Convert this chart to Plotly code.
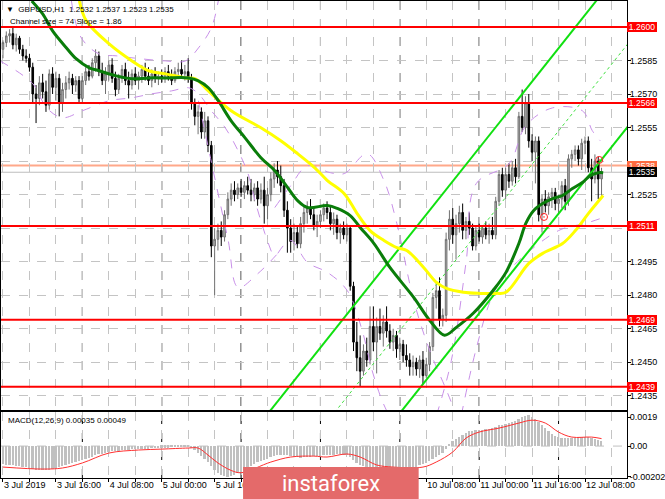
import plotly.graph_objects as go

# ---------------- data ----------------
bar_index = list(range(182))

opens = [1.2590,1.2593,1.2596,1.2597,1.2592,1.2595,1.2590,1.2587,1.2586,1.2582,
         1.2570,1.2568,1.2575,1.2571,1.2565,1.2579,1.2573,1.2577,1.2566,1.2572,
         1.2575,1.2577,1.2574,1.2576,1.2568,1.2576,1.2580,1.2578,1.2584,1.2587,
         1.2580,1.2576,1.2579,1.2583,1.2577,1.2572,1.2577,1.2581,1.2576,1.2574,
         1.2579,1.2576,1.2578,1.2581,1.2578,1.2576,1.2579,1.2577,1.2578,1.2577,
         1.2580,1.2578,1.2576,1.2580,1.2581,1.2579,1.2580,1.2577,1.2566,1.2560,
         1.2562,1.2553,1.2558,1.2547,1.2502,1.2505,1.2509,1.2506,1.2516,1.2523,
         1.2527,1.2525,1.2528,1.2526,1.2529,1.2527,1.2525,1.2528,1.2523,1.2527,
         1.2520,1.2525,1.2532,1.2536,1.2533,1.2529,1.2518,1.2510,1.2504,1.2508,
         1.2503,1.2512,1.2517,1.2519,1.2516,1.2511,1.2513,1.2516,1.2519,1.2517,
         1.2512,1.2514,1.2508,1.2510,1.2507,1.2510,1.2484,1.2459,1.2452,1.2446,
         1.2455,1.2451,1.2466,1.2459,1.2466,1.2463,1.2468,1.2464,1.2459,1.2462,
         1.2456,1.2458,1.2453,1.2451,1.2448,1.2450,1.2447,1.2451,1.2444,1.2449,
         1.2457,1.2479,1.2482,1.2469,1.2471,1.2505,1.2514,1.2507,1.2512,1.2517,
         1.2509,1.2513,1.2510,1.2502,1.2509,1.2506,1.2510,1.2507,1.2509,1.2507,
         1.2522,1.2534,1.2527,1.2534,1.2531,1.2537,1.2533,1.2560,1.2555,1.2566,
         1.2549,1.2544,1.2549,1.2516,1.2523,1.2520,1.2524,1.2526,1.2521,1.2523,
         1.2529,1.2522,1.2541,1.2543,1.2545,1.2541,1.2548,1.2549,1.2537,1.2532,
         1.2540,1.2532]

highs = [1.2594,1.2598,1.2599,1.2600,1.2597,1.2596,1.2592,1.2590,1.2588,1.2584,
         1.2574,1.2578,1.2579,1.2576,1.2581,1.2582,1.2580,1.2579,1.2575,1.2578,
         1.2580,1.2579,1.2578,1.2578,1.2578,1.2582,1.2583,1.2586,1.2590,1.2589,
         1.2584,1.2582,1.2585,1.2586,1.2580,1.2579,1.2583,1.2584,1.2580,1.2581,
         1.2582,1.2580,1.2583,1.2584,1.2582,1.2581,1.2582,1.2580,1.2581,1.2582,
         1.2583,1.2581,1.2582,1.2584,1.2585,1.2583,1.2586,1.2579,1.2568,1.2565,
         1.2564,1.2562,1.2560,1.2549,1.2510,1.2512,1.2513,1.2518,1.2526,1.2530,
         1.2531,1.2530,1.2532,1.2531,1.2533,1.2532,1.2530,1.2531,1.2530,1.2533,
         1.2528,1.2535,1.2539,1.2540,1.2538,1.2532,1.2522,1.2514,1.2512,1.2511,
         1.2515,1.2520,1.2522,1.2523,1.2519,1.2516,1.2518,1.2521,1.2522,1.2520,
         1.2517,1.2516,1.2512,1.2513,1.2512,1.2511,1.2486,1.2468,1.2462,1.2458,
         1.2461,1.2475,1.2475,1.2470,1.2474,1.2471,1.2475,1.2467,1.2465,1.2464,
         1.2461,1.2460,1.2458,1.2454,1.2453,1.2452,1.2453,1.2455,1.2452,1.2459,
         1.2481,1.2486,1.2488,1.2474,1.2508,1.2518,1.2519,1.2516,1.2520,1.2521,
         1.2515,1.2517,1.2512,1.2511,1.2512,1.2511,1.2513,1.2512,1.2515,1.2524,
         1.2536,1.2537,1.2537,1.2539,1.2540,1.2541,1.2562,1.2572,1.2569,1.2570,
         1.2552,1.2551,1.2551,1.2525,1.2527,1.2526,1.2528,1.2528,1.2525,1.2531,
         1.2532,1.2543,1.2545,1.2547,1.2547,1.2550,1.2551,1.2551,1.2541,1.2543,
         1.2542,1.2537]

lows = [1.2586,1.2591,1.2593,1.2590,1.2589,1.2588,1.2585,1.2584,1.2580,1.2566,
        1.2557,1.2565,1.2568,1.2562,1.2563,1.2570,1.2567,1.2560,1.2562,1.2568,
        1.2572,1.2570,1.2571,1.2566,1.2566,1.2574,1.2576,1.2577,1.2580,1.2578,
        1.2574,1.2570,1.2576,1.2575,1.2569,1.2570,1.2575,1.2574,1.2568,1.2572,
        1.2574,1.2572,1.2575,1.2576,1.2574,1.2573,1.2575,1.2574,1.2575,1.2575,
        1.2576,1.2574,1.2575,1.2577,1.2578,1.2576,1.2575,1.2563,1.2556,1.2552,
        1.2550,1.2550,1.2544,1.2497,1.2480,1.2500,1.2502,1.2504,1.2514,1.2520,
        1.2522,1.2523,1.2524,1.2523,1.2525,1.2522,1.2522,1.2520,1.2521,1.2512,
        1.2514,1.2522,1.2528,1.2530,1.2526,1.2515,1.2499,1.2499,1.2500,1.2501,
        1.2501,1.2508,1.2512,1.2514,1.2509,1.2506,1.2510,1.2513,1.2514,1.2509,
        1.2507,1.2505,1.2503,1.2505,1.2504,1.2482,1.2455,1.2446,1.2439,1.2444,
        1.2448,1.2449,1.2455,1.2445,1.2460,1.2457,1.2461,1.2456,1.2455,1.2452,
        1.2451,1.2450,1.2448,1.2444,1.2444,1.2444,1.2443,1.2440,1.2443,1.2446,
        1.2455,1.2474,1.2466,1.2466,1.2468,1.2500,1.2503,1.2496,1.2508,1.2505,
        1.2505,1.2507,1.2500,1.2500,1.2504,1.2503,1.2505,1.2503,1.2505,1.2505,
        1.2520,1.2524,1.2523,1.2528,1.2529,1.2530,1.2532,1.2553,1.2552,1.2546,
        1.2540,1.2530,1.2513,1.2508,1.2517,1.2516,1.2519,1.2518,1.2516,1.2519,
        1.2518,1.2520,1.2537,1.2540,1.2538,1.2536,1.2543,1.2535,1.2522,1.2530,
        1.2523,1.2523]

closes = [1.2593,1.2596,1.2597,1.2592,1.2595,1.2590,1.2587,1.2586,1.2582,1.2570,
          1.2568,1.2575,1.2571,1.2565,1.2579,1.2573,1.2577,1.2566,1.2572,1.2575,
          1.2577,1.2574,1.2576,1.2568,1.2576,1.2580,1.2578,1.2584,1.2587,1.2580,
          1.2576,1.2579,1.2583,1.2577,1.2572,1.2577,1.2581,1.2576,1.2574,1.2579,
          1.2576,1.2578,1.2581,1.2578,1.2576,1.2579,1.2577,1.2578,1.2577,1.2580,
          1.2578,1.2576,1.2580,1.2581,1.2579,1.2580,1.2577,1.2566,1.2560,1.2562,
          1.2553,1.2558,1.2547,1.2502,1.2505,1.2509,1.2506,1.2516,1.2523,1.2527,
          1.2525,1.2528,1.2526,1.2529,1.2527,1.2525,1.2528,1.2523,1.2527,1.2520,
          1.2525,1.2532,1.2536,1.2533,1.2529,1.2518,1.2510,1.2504,1.2508,1.2503,
          1.2512,1.2517,1.2519,1.2516,1.2511,1.2513,1.2516,1.2519,1.2517,1.2512,
          1.2514,1.2508,1.2510,1.2507,1.2510,1.2484,1.2459,1.2452,1.2446,1.2455,
          1.2451,1.2466,1.2459,1.2466,1.2463,1.2468,1.2464,1.2459,1.2462,1.2456,
          1.2458,1.2453,1.2451,1.2448,1.2450,1.2447,1.2451,1.2444,1.2449,1.2457,
          1.2479,1.2482,1.2469,1.2471,1.2505,1.2514,1.2507,1.2512,1.2517,1.2509,
          1.2513,1.2510,1.2502,1.2509,1.2506,1.2510,1.2507,1.2509,1.2507,1.2522,
          1.2534,1.2527,1.2534,1.2531,1.2537,1.2533,1.2560,1.2555,1.2566,1.2549,
          1.2544,1.2549,1.2516,1.2523,1.2520,1.2524,1.2526,1.2521,1.2523,1.2529,
          1.2522,1.2541,1.2543,1.2545,1.2541,1.2548,1.2549,1.2537,1.2532,1.2540,
          1.2532,1.2535]

macd_main = [-0.00120,-0.00122,-0.00125,-0.00128,-0.00130,-0.00133,-0.00136,-0.00140,-0.00145,-0.00152,
             -0.00158,-0.00160,-0.00160,-0.00158,-0.00155,-0.00150,-0.00145,-0.00140,-0.00135,-0.00128,
             -0.00120,-0.00112,-0.00105,-0.00098,-0.00092,-0.00085,-0.00078,-0.00070,-0.00062,-0.00055,
             -0.00050,-0.00045,-0.00040,-0.00036,-0.00033,-0.00030,-0.00028,-0.00026,-0.00025,-0.00023,
             -0.00022,-0.00020,-0.00019,-0.00018,-0.00017,-0.00016,-0.00015,-0.00014,-0.00013,-0.00012,
             -0.00011,-0.00010,-0.00009,-0.00008,-0.00008,-0.00007,-0.00008,-0.00015,-0.00028,-0.00045,
             -0.00065,-0.00085,-0.00105,-0.00135,-0.00160,-0.00180,-0.00192,-0.00198,-0.00202,-0.00198,
             -0.00190,-0.00180,-0.00168,-0.00155,-0.00142,-0.00130,-0.00118,-0.00108,-0.00098,-0.00090,
             -0.00083,-0.00075,-0.00068,-0.00062,-0.00058,-0.00058,-0.00062,-0.00068,-0.00072,-0.00075,
             -0.00076,-0.00075,-0.00072,-0.00070,-0.00068,-0.00066,-0.00064,-0.00062,-0.00060,-0.00058,
             -0.00057,-0.00056,-0.00056,-0.00058,-0.00062,-0.00075,-0.00095,-0.00112,-0.00125,-0.00135,
             -0.00142,-0.00150,-0.00158,-0.00163,-0.00165,-0.00166,-0.00166,-0.00165,-0.00163,-0.00162,
             -0.00160,-0.00158,-0.00157,-0.00156,-0.00150,-0.00140,-0.00125,-0.00120,-0.00110,-0.00100,
             -0.00085,-0.00070,-0.00058,-0.00045,-0.00020,0.00015,0.00035,0.00048,0.00058,0.00070,
             0.00085,0.00095,0.00100,0.00102,0.00104,0.00106,0.00108,0.00110,0.00115,0.00125,
             0.00135,0.00140,0.00145,0.00150,0.00155,0.00165,0.00178,0.00190,0.00198,0.00200,
             0.00192,0.00180,0.00160,0.00140,0.00115,0.00095,0.00080,0.00068,0.00058,0.00052,
             0.00050,0.00050,0.00052,0.00055,0.00058,0.00060,0.00060,0.00058,0.00055,0.00048,
             0.00042,0.00035]

signal_x = [0, 12, 18, 24, 32, 41, 48, 56, 59, 62, 65, 69, 72, 81, 87, 94, 98, 104, 108,
            113, 118, 127, 131, 136, 140, 144, 150, 156, 160, 164, 168, 172, 178, 181]
signal_y = [-0.00138, -0.00151, -0.00144, -0.00111, -0.00046, -0.00026, -0.00020, -0.00013,
            -0.00013, -0.00059, -0.00111, -0.00160, -0.00175, -0.00105, -0.00072, -0.00066,
            -0.00072, -0.00052, -0.00072, -0.00124, -0.00138, -0.00138, -0.00105, -0.00039,
            0.00052, 0.00092, 0.00118, 0.00151, 0.00170, 0.00151, 0.00092, 0.00059, 0.00059, 0.00049]

ma_fast_x = [8.7, 12, 15, 19.2, 22.2, 26.1, 29.1, 34.2, 39, 44.1, 49.2, 56.1, 59.1, 62.1, 65.1,
             69, 73.2, 78, 82.2, 86.1, 89.1, 92.1, 98.1, 101.1, 105, 108, 112.2, 117, 124.2,
             129, 133.5, 137.1, 142.2, 148.2, 152.1, 156, 158.1, 160.5, 163.2, 166.2, 169.2,
             172.2, 175.2, 177.6, 180, 181.5]
ma_fast_y = [1.26116, 1.26058, 1.25982, 1.25906, 1.25857, 1.25817, 1.25804, 1.25781, 1.25768,
             1.25772, 1.25772, 1.25772, 1.25759, 1.25728, 1.25670, 1.25580, 1.25504, 1.25415,
             1.25357, 1.25281, 1.25223, 1.25192, 1.25201, 1.25188, 1.25156, 1.25103, 1.25031,
             1.24924, 1.24790, 1.24688, 1.24621, 1.24656, 1.24719, 1.24821, 1.24902, 1.25031,
             1.25121, 1.25179, 1.25210, 1.25232, 1.25246, 1.25277, 1.25304, 1.25335, 1.25348, 1.25348]

ma_slow_x = [23.1, 25.2, 32.1, 39, 44.1, 49.2, 55.2, 58.2, 62.1, 69, 78, 84, 89.1, 94.2, 98.1,
             103.2, 107.1, 111, 115.2, 119.1, 122.1, 127.2, 131.1, 134.1, 139.2, 144, 149.1,
             152.1, 159, 163.2, 169.2, 173.1, 177, 181.5]
ma_slow_y = [1.26116, 1.26027, 1.25924, 1.25848, 1.25804, 1.25790, 1.25772, 1.25768, 1.25714,
             1.25625, 1.25549, 1.25491, 1.25433, 1.25371, 1.25313, 1.25254, 1.25165, 1.25089,
             1.25045, 1.25013, 1.25000, 1.24924, 1.24857, 1.24830, 1.24813, 1.24808, 1.24808,
             1.24813, 1.24942, 1.24987, 1.25031, 1.25089, 1.25165, 1.25246]

band1_x = [-0.9, 9, 13.2, 18, 24, 32.1, 39, 45, 51, 56.1, 59.1, 63, 67.2, 71.1, 74.1, 76.2, 79.2, 82.2]
band1_y = [1.25848, 1.25746, 1.25638, 1.25594, 1.25625, 1.25670, 1.25683, 1.25701, 1.25714,
           1.25728, 1.25701, 1.25625, 1.25549, 1.25446, 1.25344, 1.25223, 1.25076, 1.24955]
band2_x = [20.7, 23.7, 29.1, 34.2, 39, 49.2, 55.2, 59.1, 63, 65.1]
band2_y = [1.26116, 1.25951, 1.25879, 1.25871, 1.25862, 1.25848, 1.25848, 1.25906, 1.25996, 1.26116]
band3_x = [59.1, 64.2, 68.1, 71.1, 77.1, 83.1]
band3_y = [1.25670, 1.25313, 1.25045, 1.24835, 1.24897, 1.24987]
band4_x = [82.2, 87, 92.1, 99, 103.2, 110.1, 115.2, 119.1, 124.2, 129, 134.1, 136.5]
band4_y = [1.25192, 1.25290, 1.25379, 1.25348, 1.25344, 1.25433, 1.25313, 1.25121, 1.24777,
           1.24554, 1.24375, 1.24286]
band5_x = [83.1, 87, 92.1, 98.1, 104.1, 108.6, 111.6, 114.6, 116.7]
band5_y = [1.24987, 1.25045, 1.24946, 1.24902, 1.24821, 1.24643, 1.24464, 1.24330, 1.24263]
band6_x = [131.1, 135.6, 140.1, 143.1, 153, 158.1, 166.2, 175.2, 178.2, 180.6]
band6_y = [1.24263, 1.24509, 1.24955, 1.25299, 1.25388, 1.25558, 1.25638, 1.25625, 1.25536, 1.25491]
band7_x = [138.6, 143.1, 148.1, 153, 168, 176.1, 181.5]
band7_y = [1.24263, 1.24560, 1.24800, 1.24911, 1.25089, 1.25121, 1.25147]

levels_red = [1.2600, 1.2566, 1.2511, 1.2469, 1.2439]
level_ask = 1.2538
level_bid = 1.2535

channel_anchor_bar = 150
channel_anchor_low = 1.2483
channel_slope = 0.000186
channel_size = 0.0074
channel_x = [80, 190]

signal_marks_x = [163.6, 180.3]
signal_marks_y = [1.25150, 1.25405]

price_ticks = [1.2435, 1.2450, 1.2465, 1.2480, 1.2495, 1.2510, 1.2525, 1.2540, 1.2555, 1.2570, 1.2585]
price_ticks_hidden = [1.2510, 1.2540]   # covered by the level boxes in the original
time_tick_bars = list(range(0, 185, 8))
time_labels = {0: "3 Jul 2019", 16: "3 Jul 16:00", 32: "4 Jul 08:00", 48: "5 Jul 00:00",
               64: "5 Jul 16:00", 128: "10 Jul 08:00", 144: "11 Jul 00:00", 160: "11 Jul 16:00",
               176: "12 Jul 08:00"}
day_start_bars = [24, 48, 72, 96, 120, 144, 168]

# ---------------- figure ----------------
FONT = "Liberation Sans"
fig = go.Figure()

for bx, by in [(band1_x, band1_y), (band2_x, band2_y), (band3_x, band3_y), (band4_x, band4_y),
               (band5_x, band5_y), (band6_x, band6_y), (band7_x, band7_y)]:
    fig.add_trace(go.Scatter(x=bx, y=by, mode="lines", line=dict(color="#c890e8", width=1, dash="dash"),
                             line_shape="spline", hoverinfo="skip", showlegend=False, xaxis="x", yaxis="y"))

# channel
ch_low = [channel_anchor_low + channel_slope * (v - channel_anchor_bar) for v in channel_x]
ch_mid = [p + channel_size / 2 for p in ch_low]
ch_up = [p + channel_size for p in ch_low]
fig.add_trace(go.Scatter(x=channel_x, y=ch_mid, mode="lines", line=dict(color="#40e040", width=1, dash="dot"),
                         hoverinfo="skip", showlegend=False))
for cy in (ch_low, ch_up):
    fig.add_trace(go.Scatter(x=channel_x, y=cy, mode="lines", line=dict(color="#10e010", width=2),
                             hoverinfo="skip", showlegend=False))

fig.add_trace(go.Candlestick(
    x=bar_index, open=opens, high=highs, low=lows, close=closes,
    increasing=dict(line=dict(color="#707070", width=1), fillcolor="#b4b4b4"),
    decreasing=dict(line=dict(color="#000000", width=1), fillcolor="#000000"),
    whiskerwidth=0, hoverinfo="skip", showlegend=False, xaxis="x", yaxis="y"))

fig.add_trace(go.Scatter(x=ma_slow_x, y=ma_slow_y, mode="lines", line=dict(color="#ffff00", width=3),
                         line_shape="spline", hoverinfo="skip", showlegend=False))
fig.add_trace(go.Scatter(x=ma_fast_x, y=ma_fast_y, mode="lines", line=dict(color="#0a7d0a", width=3),
                         line_shape="spline", hoverinfo="skip", showlegend=False))
fig.add_trace(go.Scatter(x=signal_marks_x, y=signal_marks_y, mode="markers",
                         marker=dict(symbol="circle-open-dot", size=7, color="#ff2020", line=dict(width=1)),
                         hoverinfo="skip", showlegend=False))

# MACD
fig.add_trace(go.Bar(x=bar_index, y=macd_main, marker=dict(color="#c0c0c0", line=dict(width=0)),
                     width=0.55, hoverinfo="skip", showlegend=False, xaxis="x2", yaxis="y2"))
fig.add_trace(go.Scatter(x=signal_x, y=signal_y, mode="lines", line=dict(color="#ff3030", width=1),
                         line_shape="spline", hoverinfo="skip", showlegend=False, xaxis="x2", yaxis="y2"))

shapes = []
for d in day_start_bars:
    shapes.append(dict(type="line", xref="x", yref="paper", x0=d, x1=d, y0=0, y1=1,
                       line=dict(color="#000000", width=1, dash="dash"), layer="below"))
for lv in levels_red:
    shapes.append(dict(type="line", xref="paper", yref="y", x0=0, x1=1, y0=lv, y1=lv,
                       line=dict(color="#ff0000", width=2)))
shapes.append(dict(type="line", xref="paper", yref="y", x0=0, x1=1, y0=level_ask, y1=level_ask,
                   line=dict(color="#ffa88a", width=2), layer="below"))
shapes.append(dict(type="line", xref="paper", yref="y", x0=0, x1=1, y0=level_bid, y1=level_bid,
                   line=dict(color="#bdbdbd", width=1), layer="below"))
shapes.append(dict(type="line", xref="paper", yref="y2", x0=0, x1=1, y0=0, y1=0,
                   line=dict(color="#c0c0c0", width=1, dash="dash"), layer="below"))
# watermark box
shapes.append(dict(type="rect", xref="paper", yref="paper", x0=244 / 631, x1=421 / 631,
                   y0=-21 / 478, y1=11 / 478, fillcolor="#e46a6a", line=dict(width=0), layer="above"))

annotations = []
annotations.append(dict(xref="paper", yref="paper", x=3 / 631, y=1 - 2 / 478, xanchor="left", yanchor="top",
                        text="\u25BC  GBPUSD,H1  1.2532 1.2537 1.2523 1.2535", showarrow=False,
                        font=dict(family=FONT, size=8, color="#000000")))
annotations.append(dict(xref="paper", yref="paper", x=7 / 631, y=1 - 14 / 478, xanchor="left", yanchor="top",
                        text="Channel size = 74 Slope = 1.86", showarrow=False,
                        font=dict(family=FONT, size=8, color="#000000")))
annotations.append(dict(xref="paper", yref="paper", x=5 / 631, y=(478 - 420) / 478, xanchor="left",
                        yanchor="middle", text="MACD(12,26,9) 0.00035 0.00049", showarrow=False,
                        font=dict(family=FONT, size=8, color="#000000")))
box_levels = [(lv, "#ff0000") for lv in levels_red] + [(level_ask, "#ff6a40"), (level_bid, "#000000")]
for lv, col in box_levels:
    annotations.append(dict(xref="paper", yref="y", x=1, y=lv, xanchor="left", yanchor="middle", xshift=0,
                            text=f"{lv:.4f}", showarrow=False, bgcolor=col, width=30, height=10,
                            borderpad=0, borderwidth=0,
                            font=dict(family=FONT, size=8.5, color="#ffffff")))
annotations.append(dict(xref="paper", yref="paper", x=333 / 631, y=-6 / 478, xanchor="center", yanchor="middle",
                        text="instaforex", showarrow=False,
                        font=dict(family="Roboto", size=22, color="#ffffff")))

x_range = [-0.6, 188.7]
y_main_range = [1.242857, 1.261161]
y_macd_range = [-0.002097, 0.002228]

fig.update_layout(
    width=665, height=499,
    margin=dict(l=1, r=33, t=0, b=21),
    paper_bgcolor="#ffffff", plot_bgcolor="#ffffff",
    font=dict(family=FONT, size=9, color="#000000"),
    showlegend=False, bargap=0, hovermode=False,
    shapes=shapes, annotations=annotations,
    xaxis=dict(domain=[0, 1], range=x_range, anchor="y", rangeslider=dict(visible=False),
               tickvals=time_tick_bars, showticklabels=False, ticks="",
               showgrid=True, gridcolor="#c4c4c4", griddash="dash", gridwidth=1,
               showline=True, linecolor="#000000", linewidth=1, mirror=True, zeroline=False),
    xaxis2=dict(domain=[0, 1], range=x_range, anchor="y2", matches="x",
                tickvals=time_tick_bars, ticktext=[time_labels.get(t, "") for t in time_tick_bars],
                ticklabelposition="outside right", ticks="outside", ticklen=3, tickcolor="#000000",
                tickangle=0, ticklabelstandoff=-2,
                tickfont=dict(family=FONT, size=9, color="#000000"),
                showgrid=True, gridcolor="#c4c4c4", griddash="dash", gridwidth=1,
                showline=True, linecolor="#000000", linewidth=1, mirror=True, zeroline=False),
    yaxis=dict(domain=[68 / 478, 1], range=y_main_range, anchor="x", side="right",
               tickvals=price_ticks,
               ticktext=["" if t in price_ticks_hidden else f"{t:.4f}" for t in price_ticks],
               ticks="outside", ticklen=3, tickcolor="#000000", ticklabelstandoff=-3,
               tickfont=dict(family=FONT, size=9, color="#000000"),
               showgrid=True, gridcolor="#c4c4c4", griddash="dash", gridwidth=1,
               showline=True, linecolor="#000000", linewidth=1, mirror=True, zeroline=False),
    yaxis2=dict(domain=[0, 66 / 478], range=y_macd_range, anchor="x2", side="right",
                tickvals=[0.0019, 0.0, -0.00202], ticktext=["0.0019", "0.00", "-0.00202"],
                ticks="outside", ticklen=3, tickcolor="#000000", ticklabelstandoff=-3,
                tickfont=dict(family=FONT, size=9, color="#000000"),
                showgrid=False, showline=True, linecolor="#000000", linewidth=1, mirror=True,
                zeroline=False),
)

fig.write_html("out.html", config={"displayModeBar": False},
               post_script="document.body.style.margin='0px';document.body.style.overflow='hidden';")
